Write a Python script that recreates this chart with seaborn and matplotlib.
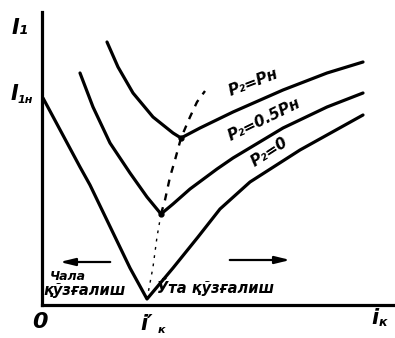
import matplotlib
matplotlib.use("Agg")
import matplotlib.pyplot as plt
import seaborn as sns
import pandas as pd

# V-curves of a synchronous motor: stator current I1 versus excitation current iк
# Excitation current (x) and stator current (y), arbitrary units
p_full_x = [65, 76, 91, 111, 131, 139, 158, 191, 241, 285, 321]
p_full_y = [263, 238, 212, 188, 172, 167, 177, 193, 215, 232, 243]

p_half_x = [38, 51, 68, 88, 105, 119, 131, 148, 175, 191, 241, 285, 321]
p_half_y = [232, 198, 162, 132, 108, 91, 101, 116, 136, 147, 177, 198, 212]

p_zero_x = [1, 38, 48, 88, 105, 131, 156, 178, 208, 258, 321]
p_zero_y = [207, 138, 120, 37, 6, 37, 68, 96, 123, 155, 190]

# locus of the minima (cos φ = 1)
min_x = [105, 111, 115, 119, 123, 128, 133, 139, 148, 155, 163]
min_y = [6, 38, 68, 91, 105, 128, 145, 167, 188, 203, 214]

curve_labels = ["P₂=Pн", "P₂=0.5Pн", "P₂=0"]
axis_y_label = "I₁"
rated_label = "I"
rated_sub = "1н"
under_text = ["Чала", "қўзғалиш"]
over_text = "Ўта қўзғалиш"

sns.set_style("white")
plt.rcParams["font.family"] = ["DejaVu Sans"]

fig = plt.figure(figsize=(3.95, 3.38), dpi=100)
ax = fig.add_axes([0, 0, 1, 1])

curves = pd.DataFrame({
    "x": p_full_x + p_half_x + p_zero_x,
    "y": p_full_y + p_half_y + p_zero_y,
    "curve": [curve_labels[0]] * len(p_full_x)
    + [curve_labels[1]] * len(p_half_x)
    + [curve_labels[2]] * len(p_zero_x),
})
sns.lineplot(data=curves, x="x", y="y", hue="curve", sort=False,
             estimator=None, palette=["black"] * 3, linewidth=2.3,
             legend=False, ax=ax)

# minimum locus: fine dots below, bolder dashes above
low = slice(0, 4)
high = slice(3, None)
sns.lineplot(x=min_x[low], y=min_y[low], sort=False, estimator=None,
             color="black", linewidth=1.0, ax=ax, linestyle=(0, (2, 4)))
sns.lineplot(x=min_x[high], y=min_y[high], sort=False, estimator=None,
             color="black", linewidth=1.7, ax=ax, linestyle=(0, (3, 3)))
ax.plot([p_half_x[5], p_full_x[5]], [p_half_y[5], p_full_y[5]], "o",
        color="black", markersize=3.5)

ax.set_xlim(-42, 353)
ax.set_ylim(-33, 305)
ax.set_xticks([])
ax.set_yticks([])
ax.set_xlabel("")
ax.set_ylabel("")
for s in ("top", "right"):
    ax.spines[s].set_visible(False)
ax.spines["left"].set_position(("data", 0))
ax.spines["bottom"].set_position(("data", 0))
ax.spines["left"].set_bounds(0, 293)
ax.spines["bottom"].set_bounds(0, 353)
for s in ("left", "bottom"):
    ax.spines[s].set_linewidth(2.3)
    ax.spines[s].set_color("black")

tk = dict(color="black", fontweight="bold", fontstyle="italic")
ax.text(-22, 277, axis_y_label, fontsize=15, ha="center", va="center", **tk)
ax.text(-28, 211, rated_label, fontsize=15, ha="center", va="center", **tk)
ax.text(-17, 205, rated_sub, fontsize=8, ha="center", va="center", **tk)
ax.text(-2, -17, "0", fontsize=16, ha="center", va="center", **tk)
ax.text(105, -19, "i′", fontsize=15, ha="center", va="center", **tk)
ax.text(119, -25, "к", fontsize=8, ha="center", va="center", **tk)
ax.text(333, -13, "i", fontsize=15, ha="center", va="center", **tk)
ax.text(341, -17, "к", fontsize=9, ha="center", va="center", **tk)

ax.text(211, 223, curve_labels[0], fontsize=11, rotation=21,
        ha="center", va="center", rotation_mode="anchor", **tk)
ax.text(222, 185, curve_labels[1], fontsize=11, rotation=26,
        ha="center", va="center", rotation_mode="anchor", **tk)
ax.text(227, 153, curve_labels[2], fontsize=11, rotation=33,
        ha="center", va="center", rotation_mode="anchor", **tk)

ax.text(8, 28, under_text[0], fontsize=9, ha="left", va="center", **tk)
ax.text(1, 14, under_text[1], fontsize=10.5, ha="left", va="center", **tk)
ax.text(115, 18, over_text, fontsize=10.5, ha="left", va="center", **tk)

arrow = dict(arrowstyle="-|>,head_length=0.9,head_width=0.22",
             color="black", lw=1.6)
ax.annotate("", xy=(15, 43), xytext=(71, 43), arrowprops=arrow)
ax.annotate("", xy=(251, 45), xytext=(185, 45), arrowprops=arrow)

fig.savefig("out.png", dpi=100)
